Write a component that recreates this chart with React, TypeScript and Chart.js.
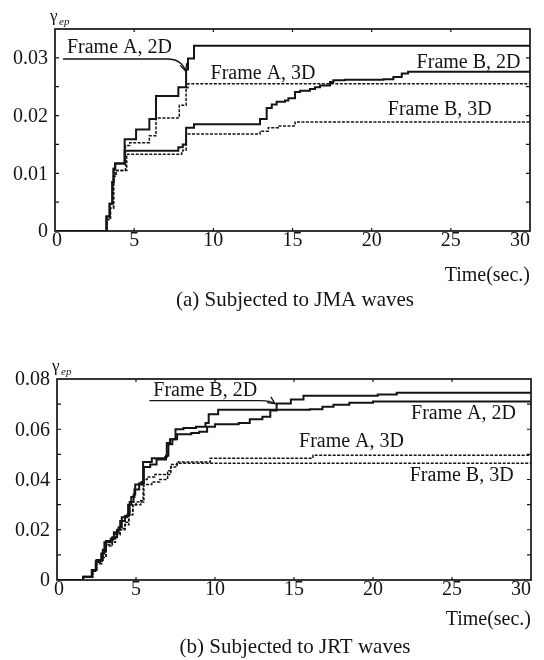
import { useEffect, useRef } from 'react';
import { Chart, registerables } from 'chart.js';

Chart.register(...registerables);

const SERIF = '"Liberation Serif", "Times New Roman", Times, serif';
const INK = '#141414';

// ---------- (a) JMA waves ----------
const jmaA2D_t = [0, 3.16, 3.25, 3.45, 3.62, 3.7, 3.8, 4.4, 5.12, 5.96, 6.38, 7.79, 8.28, 8.4, 8.78, 30];
const jmaA2D_v = [0, 0, 0.0025, 0.0047, 0.0085, 0.0108, 0.0117, 0.0159, 0.0176, 0.0194, 0.0234, 0.0249, 0.028, 0.0299, 0.0321, 0.0321];

const jmaA3D_t = [0, 3.16, 3.3, 3.5, 3.7, 3.85, 4.45, 4.72, 5.96, 6.38, 7.85, 8.28, 8.4, 30];
const jmaA3D_v = [0, 0, 0.002, 0.004, 0.0095, 0.0105, 0.0148, 0.0153, 0.0165, 0.0196, 0.0218, 0.0248, 0.0255, 0.0255];

const jmaB2D_t = [0, 3.16, 3.25, 3.45, 3.62, 3.7, 3.8, 4.4, 7.79, 8.07, 8.28, 8.78, 12.95, 13.37, 13.69, 14.0, 14.53, 14.74, 15.16, 15.48, 16.1, 16.42, 16.74, 17.37, 17.58, 18.3, 20.74, 21.37, 21.9, 22.3, 30];
const jmaB2D_v = [0, 0, 0.0025, 0.0047, 0.0085, 0.0108, 0.0117, 0.0139, 0.0145, 0.015, 0.0179, 0.0185, 0.0194, 0.0213, 0.0219, 0.0224, 0.0226, 0.023, 0.0241, 0.0243, 0.0246, 0.0249, 0.0252, 0.0258, 0.0261, 0.0262, 0.0263, 0.0267, 0.0273, 0.0276, 0.0276];

const jmaB3D_t = [0, 3.16, 3.3, 3.5, 3.7, 3.85, 4.53, 8.0, 8.07, 8.28, 12.95, 13.47, 14.1, 15.16, 30];
const jmaB3D_v = [0, 0, 0.002, 0.004, 0.0095, 0.0105, 0.0133, 0.0135, 0.014, 0.0168, 0.0173, 0.0179, 0.0182, 0.0189, 0.0189];

// ---------- (b) JRT waves ----------
const jrtA2D_t = [0, 1.66, 2.25, 2.45, 2.8, 3.0, 3.4, 3.6, 3.9, 4.1, 4.45, 4.6, 4.85, 4.95, 5.35, 5.45, 6.0, 6.85, 6.95, 7.15, 7.5, 8.0, 8.8, 9.4, 9.6, 10.2, 16.0, 16.8, 17.5, 18.5, 20.0, 30];
const jrtA2D_v = [0, 0.0013, 0.004, 0.0075, 0.0105, 0.015, 0.0165, 0.019, 0.021, 0.025, 0.026, 0.031, 0.034, 0.038, 0.039, 0.047, 0.0485, 0.049, 0.0545, 0.056, 0.06, 0.0605, 0.061, 0.0625, 0.066, 0.0678, 0.068, 0.069, 0.0698, 0.0705, 0.071, 0.071];

const jrtB2D_t = [0, 1.66, 2.2, 2.5, 2.9, 3.1, 3.5, 3.8, 4.0, 4.3, 4.5, 4.7, 4.9, 5.2, 5.5, 5.9, 6.3, 6.9, 7.05, 7.3, 7.6, 8.5, 9.0, 9.5, 10.0, 11.5, 12.2, 13.0, 13.5, 13.9, 14.8, 15.6, 20.3, 21.5, 30];
const jrtB2D_v = [0, 0.0013, 0.004, 0.008, 0.012, 0.0155, 0.017, 0.02, 0.0235, 0.0255, 0.03, 0.033, 0.036, 0.0385, 0.045, 0.046, 0.048, 0.0495, 0.054, 0.056, 0.058, 0.0585, 0.059, 0.061, 0.062, 0.0625, 0.064, 0.065, 0.0675, 0.0702, 0.0718, 0.0733, 0.0738, 0.0745, 0.0745];

const jrtA3D_t = [0, 1.66, 2.25, 2.5, 2.85, 3.1, 3.5, 3.7, 4.0, 4.3, 4.55, 4.8, 5.0, 5.3, 5.45, 5.7, 6.2, 7.0, 7.2, 7.6, 9.7, 16.2, 30];
const jrtA3D_v = [0, 0.0013, 0.0035, 0.007, 0.0095, 0.014, 0.016, 0.0185, 0.0205, 0.023, 0.0275, 0.03, 0.031, 0.0315, 0.04, 0.041, 0.042, 0.0435, 0.046, 0.047, 0.0485, 0.0497, 0.0497];

const jrtB3D_t = [0, 1.66, 2.25, 2.5, 2.85, 3.1, 3.5, 3.7, 4.0, 4.3, 4.55, 4.8, 5.3, 5.5, 6.0, 6.5, 7.0, 7.2, 7.6, 30];
const jrtB3D_v = [0, 0.0013, 0.0035, 0.0065, 0.009, 0.0135, 0.015, 0.018, 0.02, 0.022, 0.026, 0.03, 0.031, 0.038, 0.039, 0.04, 0.042, 0.045, 0.0465, 0.0465];

type Series = { t: number[]; v: number[]; dashed: boolean };
type Label = { text: string; t: number; v: number; align: CanvasTextAlign };
type Arrow = { start: [number, number]; mid: [number, number]; ctrl: [number, number]; tip: [number, number] };

type PanelCfg = {
  series: Series[];
  ymax: number;
  ystep: number;
  yLabelEvery: number;
  pad: { left: number; right: number; top: number; bottom: number };
  labels: Label[];
  arrow: Arrow;
  caption: string;
  captionY: number;
  captionX: number;
  timeY: number;
  gammaY: number;
  xLabelGap: number;
};

const panelA: PanelCfg = {
  series: [
    { t: jmaA2D_t, v: jmaA2D_v, dashed: false },
    { t: jmaA3D_t, v: jmaA3D_v, dashed: true },
    { t: jmaB2D_t, v: jmaB2D_v, dashed: false },
    { t: jmaB3D_t, v: jmaB3D_v, dashed: true },
  ],
  ymax: 0.035,
  ystep: 0.005,
  yLabelEvery: 0.01,
  pad: { left: 55, right: 14, top: 29, bottom: 99 },
  labels: [
    { text: 'Frame A, 2D', t: 4.07, v: 0.0318, align: 'center' },
    { text: 'Frame A, 3D', t: 13.14, v: 0.0273, align: 'center' },
    { text: 'Frame B, 2D', t: 29.4, v: 0.0291, align: 'right' },
    { text: 'Frame B, 3D', t: 24.3, v: 0.021, align: 'center' },
  ],
  arrow: { start: [0.5, 0.0298], mid: [7.1, 0.0298], ctrl: [8.0, 0.0298], tip: [8.25, 0.0277] },
  caption: '(a) Subjected to JMA waves',
  captionX: 295,
  captionY: 300,
  timeY: 276,
  gammaY: 21,
  xLabelGap: 10,
};

const panelB: PanelCfg = {
  series: [
    { t: jrtA2D_t, v: jrtA2D_v, dashed: false },
    { t: jrtB2D_t, v: jrtB2D_v, dashed: false },
    { t: jrtA3D_t, v: jrtA3D_v, dashed: true },
    { t: jrtB3D_t, v: jrtB3D_v, dashed: true },
  ],
  ymax: 0.08,
  ystep: 0.01,
  yLabelEvery: 0.02,
  pad: { left: 57, right: 13, top: 49, bottom: 80 },
  labels: [
    { text: 'Frame B, 2D', t: 9.38, v: 0.0754, align: 'center' },
    { text: 'Frame A, 2D', t: 29.05, v: 0.0662, align: 'right' },
    { text: 'Frame A, 3D', t: 18.64, v: 0.0552, align: 'center' },
    { text: 'Frame B, 3D', t: 28.9, v: 0.0413, align: 'right' },
  ],
  arrow: { start: [5.85, 0.0714], mid: [12.9, 0.0714], ctrl: [13.5, 0.0714], tip: [13.8, 0.0702] },
  caption: '(b) Subjected to JRT waves',
  captionX: 295,
  captionY: 317,
  timeY: 290,
  gammaY: 41,
  xLabelGap: 10,
};

function isMultiple(v: number, step: number) {
  const r = v / step;
  return Math.abs(r - Math.round(r)) < 1e-6;
}

function makeDecor(cfg: PanelCfg) {
  return {
    id: 'decor',
    afterDatasetsDraw(chart: any) {
      const { ctx, chartArea: a, scales } = chart;
      const xs = scales.x;
      const ys = scales.y;
      const px = (t: number) => xs.getPixelForValue(t);
      const py = (v: number) => ys.getPixelForValue(v);
      ctx.save();
      ctx.strokeStyle = INK;
      ctx.fillStyle = INK;
      ctx.setLineDash([]);
      // frame
      ctx.lineWidth = 1.7;
      ctx.strokeRect(a.left, a.top, a.right - a.left, a.bottom - a.top);
      // inward ticks
      ctx.lineWidth = 1.2;
      ctx.beginPath();
      ys.ticks.forEach((tk: any) => {
        const y = py(tk.value);
        if (y <= a.top + 1 || y >= a.bottom - 1) return;
        ctx.moveTo(a.left, y);
        ctx.lineTo(a.left + 4, y);
        ctx.moveTo(a.right, y);
        ctx.lineTo(a.right - 4, y);
      });
      xs.ticks.forEach((tk: any) => {
        const x = px(tk.value);
        if (x <= a.left + 1 || x >= a.right - 1) return;
        ctx.moveTo(x, a.bottom);
        ctx.lineTo(x, a.bottom - 3);
        ctx.moveTo(x, a.top);
        ctx.lineTo(x, a.top + 3);
      });
      ctx.stroke();
      // tick labels
      ctx.font = `20px ${SERIF}`;
      ctx.textBaseline = 'middle';
      ctx.textAlign = 'right';
      ys.ticks.forEach((tk: any) => {
        const v = tk.value;
        if (!isMultiple(v, cfg.yLabelEvery)) return;
        const lab = Math.abs(v) < 1e-9 ? '0' : v.toFixed(2);
        ctx.fillText(lab, a.left - 7, py(v) + 1);
      });
      xs.ticks.forEach((tk: any, i: number) => {
        const x = px(tk.value);
        const last = i === xs.ticks.length - 1;
        ctx.textAlign = last ? 'right' : 'center';
        const lx = last ? a.right : i === 0 ? x + 2 : x;
        ctx.fillText(String(Math.round(tk.value)), lx, a.bottom + cfg.xLabelGap);
      });
      // axis names
      ctx.textAlign = 'right';
      ctx.fillText('Time(sec.)', a.right, cfg.timeY);
      ctx.textAlign = 'left';
      ctx.textBaseline = 'alphabetic';
      ctx.font = `17px ${SERIF}`;
      ctx.fillText('γ', a.left - 5, cfg.gammaY);
      ctx.font = `italic 11px ${SERIF}`;
      ctx.fillText('ep', a.left + 4, cfg.gammaY + 4);
      // caption
      ctx.font = `21px ${SERIF}`;
      ctx.textAlign = 'center';
      ctx.textBaseline = 'middle';
      ctx.fillText(cfg.caption, cfg.captionX, cfg.captionY);
      // in-plot labels
      ctx.font = `20px ${SERIF}`;
      cfg.labels.forEach((l) => {
        ctx.textAlign = l.align;
        ctx.fillText(l.text, px(l.t), py(l.v));
      });
      // arrow
      const ar = cfg.arrow;
      const sx = px(ar.start[0]), sy = py(ar.start[1]);
      const mx = px(ar.mid[0]), my = py(ar.mid[1]);
      const cx = px(ar.ctrl[0]), cy = py(ar.ctrl[1]);
      const tx = px(ar.tip[0]), ty = py(ar.tip[1]);
      ctx.lineWidth = 1.3;
      ctx.beginPath();
      ctx.moveTo(sx, sy);
      ctx.lineTo(mx, my);
      ctx.quadraticCurveTo(cx, cy, tx, ty);
      ctx.stroke();
      const ang = Math.atan2(ty - cy, tx - cx);
      const hl = 8;
      ctx.beginPath();
      ctx.moveTo(tx - hl * Math.cos(ang - 0.45), ty - hl * Math.sin(ang - 0.45));
      ctx.lineTo(tx, ty);
      ctx.lineTo(tx - hl * Math.cos(ang + 0.45), ty - hl * Math.sin(ang + 0.45));
      ctx.stroke();
      ctx.restore();
    },
  };
}

function buildChart(canvas: HTMLCanvasElement, cfg: PanelCfg) {
  return new Chart(canvas, {
    type: 'line',
    data: {
      datasets: cfg.series.map((s) => ({
        data: s.t.map((t, i) => ({ x: t, y: s.v[i] })),
        borderColor: INK,
        borderWidth: s.dashed ? 1.5 : 2,
        borderDash: s.dashed ? [3, 1.5] : [],
        stepped: 'before' as const,
        pointRadius: 0,
        fill: false,
      })),
    },
    options: {
      animation: false,
      responsive: false,
      maintainAspectRatio: false,
      events: [],
      layout: { padding: cfg.pad },
      plugins: { legend: { display: false }, tooltip: { enabled: false }, title: { display: false } },
      scales: {
        x: {
          type: 'linear',
          min: 0,
          max: 30,
          ticks: { stepSize: 5, display: false },
          grid: { display: false, drawTicks: false },
          border: { display: false },
          afterFit: (s: any) => {
            s.height = 0;
          },
        },
        y: {
          type: 'linear',
          min: 0,
          max: cfg.ymax,
          ticks: { stepSize: cfg.ystep, display: false },
          grid: { display: false, drawTicks: false },
          border: { display: false },
          afterFit: (s: any) => {
            s.width = 0;
          },
        },
      },
    },
    plugins: [makeDecor(cfg)],
  } as any);
}

export default function App() {
  const refA = useRef<HTMLCanvasElement>(null);
  const refB = useRef<HTMLCanvasElement>(null);
  useEffect(() => {
    const ca = buildChart(refA.current!, panelA);
    const cb = buildChart(refB.current!, panelB);
    return () => {
      ca.destroy();
      cb.destroy();
    };
  }, []);
  return (
    <div style={{ position: 'absolute', left: 0, top: 0, width: 544, height: 660, background: '#fff' }}>
      <canvas ref={refA} width={544} height={330} style={{ position: 'absolute', left: 0, top: 0, width: 544, height: 330 }} />
      <canvas ref={refB} width={544} height={330} style={{ position: 'absolute', left: 0, top: 330, width: 544, height: 330 }} />
    </div>
  );
}
